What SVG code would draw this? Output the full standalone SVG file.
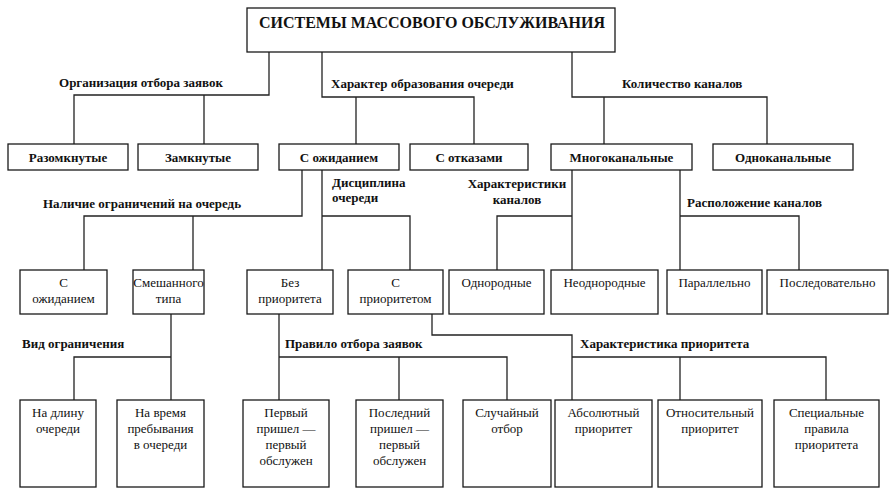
<svg xmlns="http://www.w3.org/2000/svg" width="896" height="495" viewBox="0 0 896 495">
<style>
.box{fill:#fff;stroke:#1a1a1a;stroke-width:1.3}
text{font-family:'Liberation Serif','Times New Roman','DejaVu Serif',serif;fill:#111}
.t{font-size:13px;text-anchor:middle}
.b{font-size:13px;font-weight:bold}
.c{fill:none;stroke:#222;stroke-width:1.3}
</style>
<rect width="896" height="495" fill="#fff"/>
<g id="connectors" class="c">
<path d="M269 52V95H74V144M204 95V144"/>
<path d="M322 52V97H474V144M356 97V144"/>
<path d="M572 52V97H767V144M604 97V144"/>
<path d="M302 170V216H84V270M193 216V270"/>
<path d="M322 170V270M322 216H410V270"/>
<path d="M572 170V270M572 216H497V270"/>
<path d="M680 170V270M680 216H799V270"/>
<path d="M171 314V400M171 357H74V400"/>
<path d="M279 314V400M279 357H507V400M399 357V400"/>
<path d="M432 314V335H572V400M572 357H826V400M680 357V400"/>
</g>
<g id="labels">
<text class="b" x="141" y="87" text-anchor="middle">Организация отбора заявок</text>
<text class="b" x="331" y="88">Характер образования очереди</text>
<text class="b" x="622" y="88">Количество каналов</text>
<text class="b" x="43" y="208">Наличие ограничений на очередь</text>
<text class="b" x="332" y="187">Дисциплина</text>
<text class="b" x="332" y="202">очереди</text>
<text class="b" x="517" y="188" text-anchor="middle">Характеристики</text>
<text class="b" x="517" y="204" text-anchor="middle">каналов</text>
<text class="b" x="687" y="207">Расположение каналов</text>
<text class="b" x="22" y="348">Вид ограничения</text>
<text class="b" x="285" y="348">Правило отбора заявок</text>
<text class="b" x="580" y="348">Характеристика приоритета</text>
</g>
<g id="root"><rect class="box" x="247" y="8" width="368" height="44"/><text class="b" x="432" y="28" text-anchor="middle" style="font-size:16px">СИСТЕМЫ МАССОВОГО ОБСЛУЖИВАНИЯ</text></g>
<g id="n-razomk"><rect class="box" x="8" y="144" width="120" height="26"/><text class="b" x="68" y="162" text-anchor="middle">Разомкнутые</text></g>
<g id="n-zamk"><rect class="box" x="138" y="144" width="120" height="26"/><text class="b" x="198" y="162" text-anchor="middle">Замкнутые</text></g>
<g id="n-sozh"><rect class="box" x="279" y="144" width="120" height="26"/><text class="b" x="339" y="162" text-anchor="middle">С ожиданием</text></g>
<g id="n-sotk"><rect class="box" x="410" y="144" width="118" height="26"/><text class="b" x="469" y="162" text-anchor="middle">С отказами</text></g>
<g id="n-mnogo"><rect class="box" x="551" y="144" width="141" height="26"/><text class="b" x="621.5" y="162" text-anchor="middle">Многоканальные</text></g>
<g id="n-odno"><rect class="box" x="713" y="144" width="140" height="26"/><text class="b" x="783" y="162" text-anchor="middle">Одноканальные</text></g>
<g id="n-sozh2"><rect class="box" x="20" y="270" width="87" height="44"/><text class="t" x="63.5" y="287">С</text><text class="t" x="63.5" y="303">ожиданием</text></g>
<g id="n-smesh"><rect class="box" x="133" y="270" width="71" height="44"/><text class="t" x="168.5" y="287">Смешанного</text><text class="t" x="168.5" y="303">типа</text></g>
<g id="n-bezpr"><rect class="box" x="247" y="270" width="86" height="44"/><text class="t" x="290" y="287">Без</text><text class="t" x="290" y="303">приоритета</text></g>
<g id="n-spr"><rect class="box" x="348" y="270" width="95" height="44"/><text class="t" x="395.5" y="287">С</text><text class="t" x="395.5" y="303">приоритетом</text></g>
<g id="n-odnor"><rect class="box" x="449" y="270" width="95" height="44"/><text class="t" x="496.5" y="287">Однородные</text></g>
<g id="n-neodn"><rect class="box" x="551" y="270" width="107" height="44"/><text class="t" x="604.5" y="287">Неоднородные</text></g>
<g id="n-paral"><rect class="box" x="667" y="270" width="95" height="44"/><text class="t" x="714.5" y="287">Параллельно</text></g>
<g id="n-posl"><rect class="box" x="767" y="270" width="121" height="44"/><text class="t" x="827.5" y="287">Последовательно</text></g>
<g id="n-dlina"><rect class="box" x="20" y="400" width="76" height="87"/><text class="t" x="58" y="417">На длину</text><text class="t" x="58" y="433">очереди</text></g>
<g id="n-vremya"><rect class="box" x="117" y="400" width="87" height="87"/><text class="t" x="160.5" y="417">На время</text><text class="t" x="160.5" y="433">пребывания</text><text class="t" x="160.5" y="449">в очереди</text></g>
<g id="n-fifo"><rect class="box" x="243" y="400" width="86" height="87"/><text class="t" x="286" y="417">Первый</text><text class="t" x="286" y="433">пришел —</text><text class="t" x="286" y="449">первый</text><text class="t" x="286" y="465">обслужен</text></g>
<g id="n-lifo"><rect class="box" x="356" y="400" width="87" height="87"/><text class="t" x="399.5" y="417">Последний</text><text class="t" x="399.5" y="433">пришел —</text><text class="t" x="399.5" y="449">первый</text><text class="t" x="399.5" y="465">обслужен</text></g>
<g id="n-rand"><rect class="box" x="463" y="400" width="88" height="87"/><text class="t" x="507" y="417">Случайный</text><text class="t" x="507" y="433">отбор</text></g>
<g id="n-abs"><rect class="box" x="555" y="400" width="97" height="87"/><text class="t" x="603.5" y="417">Абсолютный</text><text class="t" x="603.5" y="433">приоритет</text></g>
<g id="n-otn"><rect class="box" x="658" y="400" width="104" height="87"/><text class="t" x="710" y="417">Относительный</text><text class="t" x="710" y="433">приоритет</text></g>
<g id="n-spec"><rect class="box" x="774" y="400" width="105" height="87"/><text class="t" x="826.5" y="417">Специальные</text><text class="t" x="826.5" y="433">правила</text><text class="t" x="826.5" y="449">приоритета</text></g>
</svg>
